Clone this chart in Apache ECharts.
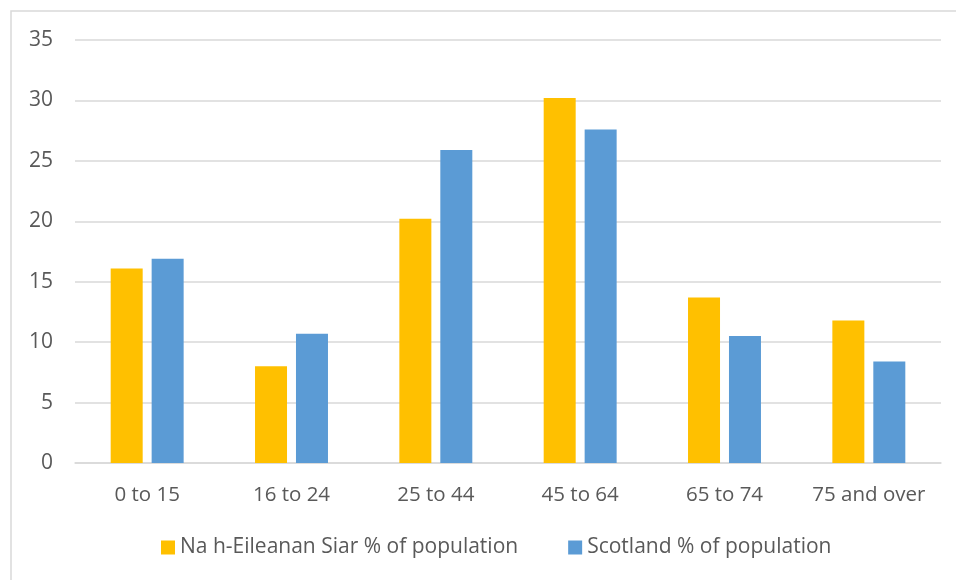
<!DOCTYPE html>
<html>
<head>
<meta charset="utf-8">
<script src="https://cdn.jsdelivr.net/npm/echarts@6/dist/echarts.min.js"></script>
<style>
  html, body { margin: 0; padding: 0; background: #fff; }
  #chart { width: 956px; height: 580px; }
</style>
</head>
<body>
<div id="chart"></div>
<script>
const ageGroups = ['0 to 15', '16 to 24', '25 to 44', '45 to 64', '65 to 74', '75 and over']
const eileananSiar = [16.1, 8.0, 20.2, 30.2, 13.7, 11.8]
const scotland = [16.9, 10.7, 25.9, 27.6, 10.5, 8.4]
const seriesNames = ['Na h-Eileanan Siar % of population', 'Scotland % of population']

const font = '"Open Sans", "Noto Sans", sans-serif'
const grey = '#595959'

const chart = echarts.init(document.getElementById('chart'))

chart.setOption({
  animation: false,
  textStyle: { fontFamily: font },
  graphic: [{
    type: 'rect',
    shape: { x: 11, y: 11, width: 960, height: 600 },
    style: { fill: 'none', stroke: '#d9d9d9', lineWidth: 1.5 },
    z: -1
  }],
  grid: { left: 75, right: 15, top: 40, bottom: 117 },
  legend: {
    bottom: 17,
    left: 156,
    itemWidth: 14,
    itemHeight: 14,
    itemGap: 50,
    icon: 'rect',
    textStyle: { color: grey, fontSize: 21, fontFamily: font }
  },
  xAxis: {
    type: 'category',
    data: ageGroups,
    axisLine: { lineStyle: { color: '#d9d9d9', width: 1.5 } },
    axisTick: { show: false },
    axisLabel: { color: grey, fontSize: 20.5, margin: 22, interval: 0 }
  },
  yAxis: {
    type: 'value',
    min: 0,
    max: 35,
    interval: 5,
    axisLine: { show: false },
    axisTick: { show: false },
    axisLabel: { color: grey, fontSize: 21, margin: 22 },
    splitLine: { lineStyle: { color: '#d9d9d9', width: 1.5 } }
  },
  series: [
    {
      name: seriesNames[0],
      type: 'bar',
      data: eileananSiar,
      barWidth: 32,
      barGap: '28%',
      itemStyle: { color: '#FFC000' }
    },
    {
      name: seriesNames[1],
      type: 'bar',
      data: scotland,
      barWidth: 32,
      barGap: '28%',
      itemStyle: { color: '#5B9BD5' }
    }
  ]
})
</script>
</body>
</html>
